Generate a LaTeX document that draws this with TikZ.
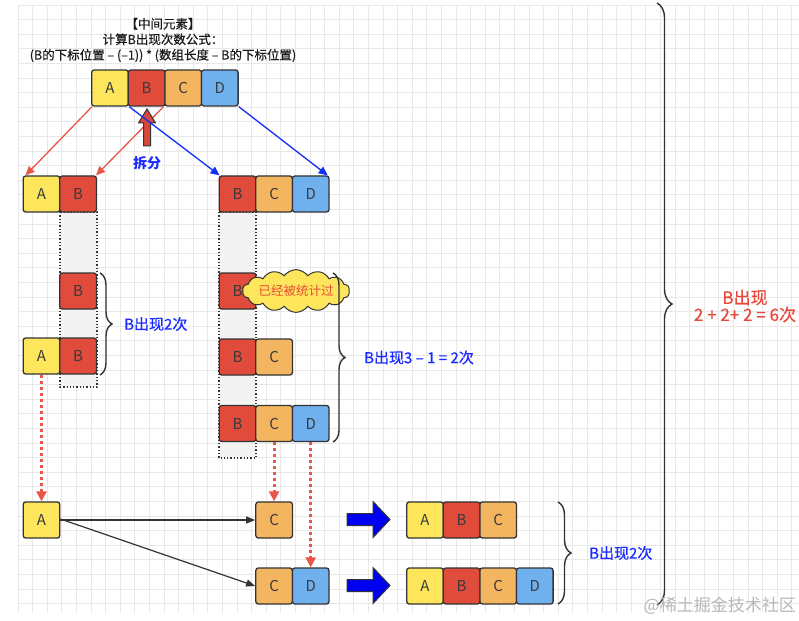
\documentclass[tikz,border=0pt]{standalone}
\usepackage{fontspec}
\newfontfamily\cjk{Noto Sans CJK SC}
\newfontfamily\cjkm{Noto Sans CJK SC}[FakeBold=0.8]
\newfontfamily\cjkl{Noto Sans CJK SC}[FakeBold=0.4]
\usetikzlibrary{arrows.meta,decorations.pathreplacing,shapes.symbols}
\definecolor{cA}{HTML}{FDE65C}
\definecolor{cB}{HTML}{E14B3B}
\definecolor{cC}{HTML}{F3B55F}
\definecolor{cD}{HTML}{6FB0EE}
\definecolor{edge}{HTML}{333333}
\definecolor{celltext}{HTML}{3A3A3A}
\definecolor{gridc}{HTML}{E8E8E8}
\definecolor{shade}{HTML}{F3F3F3}
\definecolor{redline}{HTML}{E8574A}
\definecolor{blueline}{HTML}{1030F5}
\definecolor{bluetext}{HTML}{1A2BFF}
\definecolor{redtext}{HTML}{E8493A}
\definecolor{bigblue}{HTML}{0000F0}
\definecolor{uparrow}{HTML}{D9473A}
\tikzset{
  cell/.style={draw=edge, line width=1.3pt, rounded corners=2.5pt, minimum width=36.6pt, minimum height=36pt, inner sep=0pt, font=\cjk\fontsize{15}{15}\selectfont, text=celltext},
  ca/.style={cell, fill=cA},
  cb/.style={cell, fill=cB},
  cc/.style={cell, fill=cC},
  cd/.style={cell, fill=cD},
  redarrow/.style={draw=redline, line width=1.3pt, -{Triangle[length=9pt,width=8pt]}},
  bluearrow/.style={draw=blueline, line width=1.3pt, -{Triangle[length=9pt,width=8pt]}},
  blackarrow/.style={draw=edge, line width=1.2pt, -{Triangle[length=9pt,width=7pt]}},
  dotarrow/.style={draw=redline, line width=2.8pt, dash pattern=on 3pt off 3pt, -{Triangle[length=10pt,width=10pt]}},
  bracestyle/.style={draw=edge, line width=1.4pt, decorate},
  bluelabel/.style={font=\cjkm\fontsize{15}{15}\selectfont, text=bluetext, inner sep=0pt, anchor=west},
  colshade/.style={fill=shade, draw=edge, line width=1.3pt, dotted},
}
\begin{document}
\begin{tikzpicture}[x=1pt,y=-1pt]
\useasboundingbox (0,0) rectangle (799,620);
\fill[white] (0,0) rectangle (799,620);
% grid
\foreach \gx in {18,32.6,...,799} \draw[gridc, line width=0.7pt] (\gx,5) -- (\gx,613);
\foreach \gy in {5,19.6,...,613} \draw[gridc, line width=0.7pt] (18,\gy) -- (799,\gy);

% title
\node[font=\cjkl\fontsize{12.5}{12.5}\selectfont, align=center, inner sep=0pt, text=black!90] (title) at (163,40) {【中间元素】\\[3pt]计算B出现次数公式：\\[3pt](B的下标位置 – (–1)) * (数组长度 – B的下标位置)};

% shaded columns
\draw[colshade] (60,212) rectangle (97,387);
\draw[colshade] (219,212) rectangle (256,458);

% top row
\node[ca] (tA) at (110,88) {A};
\node[cb] (tB) at (146.6,88) {B};
\node[cc] (tC) at (183.2,88) {C};
\node[cd] (tD) at (219.8,88) {D};

% row 2
\node[ca] (lA) at (41.5,194) {A};
\node[cb] (lB) at (78.1,194) {B};
\node[cb] (rB) at (237.5,194) {B};
\node[cc] (rC) at (274.1,194) {C};
\node[cd] (rD) at (310.7,194) {D};

% left column
\node[cb] (lB1) at (78.1,291) {B};
\node[ca] (lA2) at (41.5,356) {A};
\node[cb] (lB2) at (78.1,356) {B};

% right column
\node[cb] (rB1) at (237.5,291) {B};
\node[cb] (rB2) at (237.5,357) {B};
\node[cc] (rC2) at (274.1,357) {C};
\node[cb] (rB3) at (237.5,423.5) {B};
\node[cc] (rC3) at (274.1,423.5) {C};
\node[cd] (rD3) at (310.7,423.5) {D};

% bottom
\node[ca] (bA) at (41.5,520) {A};
\node[cc] (bC) at (274.1,520) {C};
\node[cc] (bC2) at (274.1,586) {C};
\node[cd] (bD2) at (310.7,586) {D};

% results
\node[ca] (sA) at (425,520) {A};
\node[cb] (sB) at (461.6,520) {B};
\node[cc] (sC) at (498.2,520) {C};
\node[ca] (uA) at (425,586) {A};
\node[cb] (uB) at (461.6,586) {B};
\node[cc] (uC) at (498.2,586) {C};
\node[cd] (uD) at (534.8,586) {D};

% split arrows
\draw[redarrow] ([xshift=1pt]tA.south west) -- ([xshift=3pt]lA.north west);
\draw[redarrow] ([xshift=-2pt]tB.south east) -- ([xshift=-1pt]lB.north east);
\filldraw[fill=uparrow, draw=edge, line width=1pt] (147,109) -- (155.5,123) -- (150.5,123) -- (150.5,146) -- (143.5,146) -- (143.5,123) -- (138.5,123) -- cycle;
\draw[bluearrow] ([xshift=1.5pt]tB.south west) -- ([xshift=1pt]rB.north west);
\draw[bluearrow] (tD.south east) -- ([xshift=-2pt]rD.north east);
\node[font=\cjk\bfseries\fontsize{14}{14}\selectfont, text=bluetext, inner sep=0pt] (split) at (147,163) {拆分};

% cloud
\fill[cA, draw=edge, line width=1pt] (256,285) -- (246,291) -- (256,297) -- cycle;
\node[cloud, cloud puffs=14, cloud puff arc=110, aspect=3.4, minimum width=92pt, minimum height=38pt, inner sep=0pt, fill=cA, draw=edge, line width=1pt,
  font=\cjk\fontsize{12.5}{12.5}\selectfont, text=redtext] (cloud) at (296,291) {已经被统计过};
\fill[cA] (253,287.5) -- (248,291) -- (253,294.5) -- cycle;

% braces
\draw[bracestyle, decoration={brace, amplitude=12pt}] (100,273) -- (100,375) coordinate[midway] (m1);
\node[bluelabel] (lab1) at ([xshift=24pt]m1) {B出现2次};
\draw[bracestyle, decoration={brace, amplitude=12pt}] (333,273) -- (333,442) coordinate[midway] (m2);
\node[bluelabel] (lab2) at ([xshift=31pt]m2) {B出现3 – 1 = 2次};
\draw[bracestyle, decoration={brace, amplitude=13pt}] (558,502) -- (558,604) coordinate[midway] (m3);
\node[bluelabel] (lab3) at ([xshift=31pt]m3) {B出现2次};
\draw[bracestyle, decoration={brace, amplitude=15pt}] (657,3) -- (657,605);
\node[font=\cjkl\fontsize{17}{17}\selectfont, text=redtext, align=center, inner sep=0pt] (total) at (745,306) {B出现\\[0pt]2 + 2+ 2 = 6次};

% dotted red arrows
\draw[dotarrow] (lA2.south) -- (bA.north);
\draw[dotarrow] (rC3.south) -- (bC.north);
\draw[dotarrow] (rD3.south) -- (bD2.north);

% black arrows
\draw[blackarrow] (bA.east) -- (bC.west);
\draw[blackarrow] ([yshift=1pt]bA.east) -- (bC2.west);

% big blue arrows
\foreach \yy in {0,66} {
  \filldraw[fill=bigblue, draw=edge, line width=1pt, shift={(0,\yy)}] (347,513.5) -- (373,513.5) -- (373,501.5) -- (390,519.5) -- (373,537.5) -- (373,525.5) -- (347,525.5) -- cycle;
}

% watermark
\node[font=\cjk\fontsize{17}{17}\selectfont, text=black!28, inner sep=0pt, anchor=east] (wm) at (796,606) {@稀土掘金技术社区};
\end{tikzpicture}
\end{document}
